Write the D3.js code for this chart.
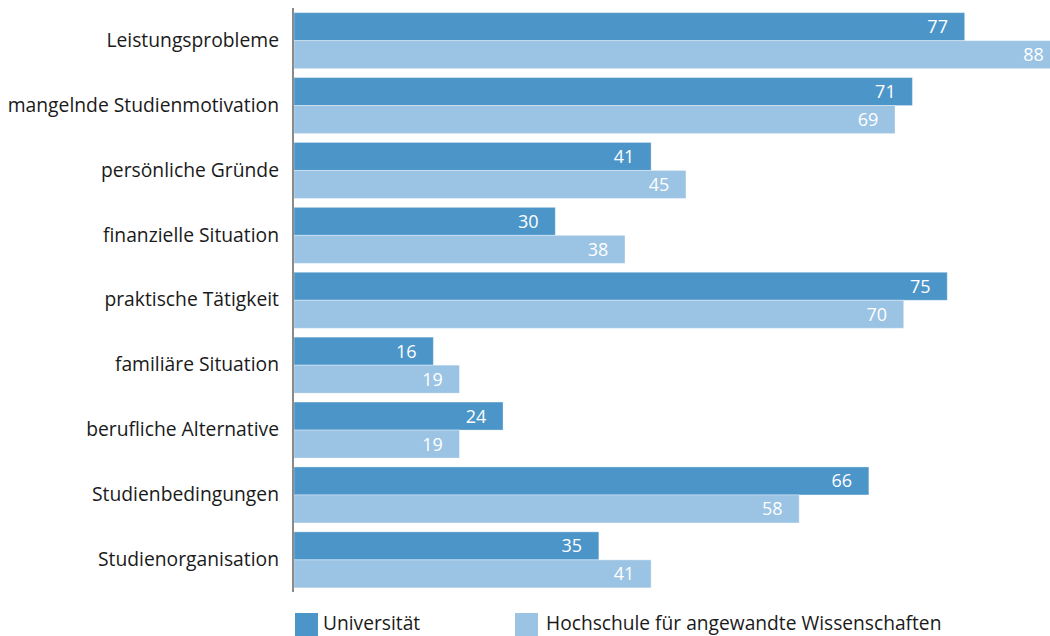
<!DOCTYPE html>
<html>
<head>
<meta charset="utf-8">
<script src="https://cdn.jsdelivr.net/npm/d3@7"></script>
<style>
  body { margin: 0; background: #fff; }
  svg { display: block; font-family: "Open Sans", "Noto Sans", sans-serif; }
</style>
</head>
<body>
<div class="chart"></div>
<script>
// chart data
let categories = [
    "Leistungsprobleme",
    "mangelnde Studienmotivation",
    "persönliche Gründe",
    "finanzielle Situation",
    "praktische Tätigkeit",
    "familiäre Situation",
    "berufliche Alternative",
    "Studienbedingungen",
    "Studienorganisation"
];
let universitaet = [77, 71, 41, 30, 75, 16, 24, 66, 35];
let hochschule = [88, 69, 45, 38, 70, 19, 19, 58, 41];
let seriesNames = ["Universität", "Hochschule für angewandte Wissenschaften"];
let seriesColors = ["#4b95c9", "#9bc3e3"];

let chart = {};
chart.width = 1050;
chart.height = 636;

chart.svg = d3.select(".chart").append("svg")
    .attr("width", chart.width)
    .attr("height", chart.height);

// x scale: 0 sits on the axis line, 88 runs past the right edge
chart.xScale = d3.scaleLinear()
    .domain([0, 88])
    .range([294, 294 + 88 * 8.71]);

chart.yScale = d3.scaleBand()
    .domain(categories)
    .range([8.2, 592.3])
    .paddingInner(0.137)
    .paddingOuter(0.0685);

chart.subScale = d3.scaleBand()
    .domain([0, 1])
    .range([0, chart.yScale.bandwidth()]);

let rows = categories.map((c, i) => ({
    category: c,
    values: [universitaet[i], hochschule[i]]
}));

let groups = chart.svg.append("g").selectAll("g")
    .data(rows)
    .join("g")
    .attr("transform", d => `translate(0,${chart.yScale(d.category)})`);

let bars = groups.selectAll("g")
    .data(d => d.values.map((v, s) => ({ value: v, series: s })))
    .join("g");

bars.append("rect")
    .attr("x", chart.xScale(0))
    .attr("y", d => chart.subScale(d.series))
    .attr("width", d => chart.xScale(d.value) - chart.xScale(0))
    .attr("height", chart.subScale.bandwidth())
    .attr("fill", d => seriesColors[d.series])
    .attr("stroke", "rgba(255,255,255,0.35)")
    .attr("stroke-width", 1);

bars.append("text")
    .attr("x", d => chart.xScale(d.value) - 27)
    .attr("y", d => chart.subScale(d.series) + chart.subScale.bandwidth() / 2)
    .attr("dy", "0.36em")
    .attr("text-anchor", "middle")
    .attr("fill", "#fff")
    .style("font-size", "18px")
    .text(d => d.value);

// category labels
chart.yAxis = chart.svg.append("g")
    .attr("transform", "translate(293,0)")
    .call(d3.axisLeft(chart.yScale).tickSize(0).tickPadding(14));

chart.yAxis.select(".domain").remove();
chart.yAxis.selectAll("text")
    .attr("fill", "#1a1a1a")
    .style("font-size", "19.3px")
    .style("font-family", "\"Open Sans\", \"Noto Sans\", sans-serif");

// axis line
chart.svg.append("line")
    .attr("x1", 293).attr("x2", 293)
    .attr("y1", 8).attr("y2", 592)
    .attr("stroke", "#8a8a8a")
    .attr("stroke-width", 2);

// legend
let legendX = [295, 515];
let legend = chart.svg.append("g").selectAll("g")
    .data(seriesNames)
    .join("g")
    .attr("transform", (d, i) => `translate(${legendX[i]},613)`);

legend.append("rect")
    .attr("width", 23)
    .attr("height", 23)
    .attr("fill", (d, i) => seriesColors[i]);

legend.append("text")
    .attr("x", (d, i) => i === 0 ? 28 : 31)
    .attr("y", 10)
    .attr("dy", "0.36em")
    .attr("fill", "#1a1a1a")
    .style("font-size", "19.2px")
    .text(d => d);
</script>
</body>
</html>
